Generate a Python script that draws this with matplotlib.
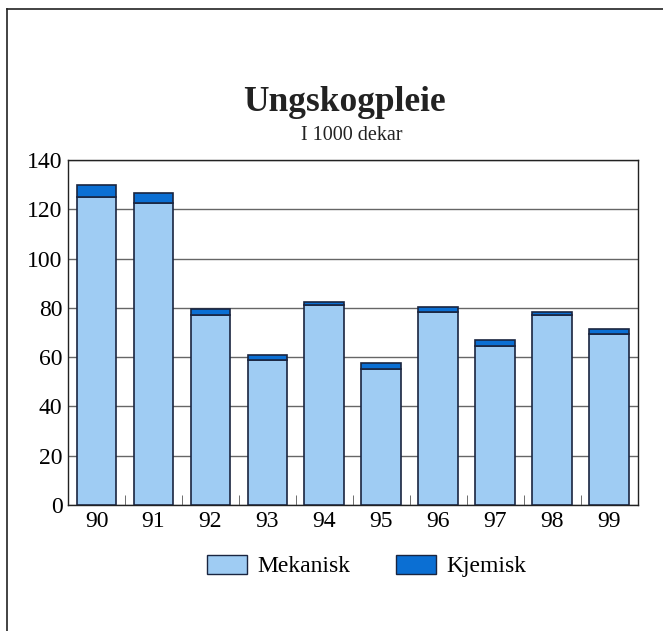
import numpy as np
import matplotlib.pyplot as plt
from matplotlib.lines import Line2D
from matplotlib.patches import Patch

years = ['90', '91', '92', '93', '94', '95', '96', '97', '98', '99']
mekanisk = [125, 122.5, 77, 59, 81, 55, 78.5, 64.5, 77, 69.5]
kjemisk = [5, 4, 2.5, 2, 1.5, 2.5, 2, 2.3, 1.5, 2]
yticks = [0, 20, 40, 60, 80, 100, 120, 140]

plt.rcParams['font.family'] = ['Liberation Serif', 'DejaVu Serif']

fig = plt.figure(figsize=(6.63, 6.31), dpi=100)
ax = fig.add_axes([0.1026, 0.1997, 0.8594, 0.5467])

x = np.arange(len(years))
light = '#9fccf3'
dark = '#0b6fd3'
edge = '#1a2540'
ax.bar(x, mekanisk, width=0.7, color=light, edgecolor=edge, linewidth=1.2, zorder=3)
ax.bar(x, kjemisk, bottom=mekanisk, width=0.7, color=dark, edgecolor=edge,
       linewidth=1.2, zorder=3)

ax.set_xlim(-0.5, len(years) - 0.5)
ax.set_ylim(0, 140)
ax.set_yticks(yticks)
ax.set_yticklabels([str(v) for v in yticks], fontsize=17)
ax.set_xticks(x)
ax.set_xticklabels(years, fontsize=17)
ax.tick_params(axis='x', length=0, pad=4)
ax.tick_params(axis='y', length=0, pad=4)
ax.set_xticks(x[:-1] + 0.5, minor=True)
ax.tick_params(axis='x', which='minor', direction='in', length=7, color='#555555')
ax.yaxis.grid(True, color='#666666', linewidth=1.0, zorder=0)
for s in ax.spines.values():
    s.set_color('#222222')
    s.set_linewidth(1.0)

fig.text(0.52, 0.838, 'Ungskogpleie', ha='center', va='center', fontsize=25.5,
         fontweight='bold', color='#222222')
fig.text(0.53, 0.786, 'I 1000 dekar', ha='center', va='center', fontsize=14.5,
         color='#222222')

handles = [Patch(facecolor=light, edgecolor=edge, label='Mekanisk'),
           Patch(facecolor=dark, edgecolor=edge, label='Kjemisk')]
fig.legend(handles=handles, loc='center', bbox_to_anchor=(0.553, 0.103), ncol=2,
           frameon=False, fontsize=17, handlelength=1.7, handleheight=0.85,
           columnspacing=1.9, handletextpad=0.45)

# outer frame
fig.add_artist(Line2D([0.0106, 1.0], [0.986, 0.986], color='#222222', lw=1.2))
fig.add_artist(Line2D([0.0106, 0.0106], [0.0, 0.986], color='#222222', lw=1.2))

fig.savefig('out.png', dpi=100)
